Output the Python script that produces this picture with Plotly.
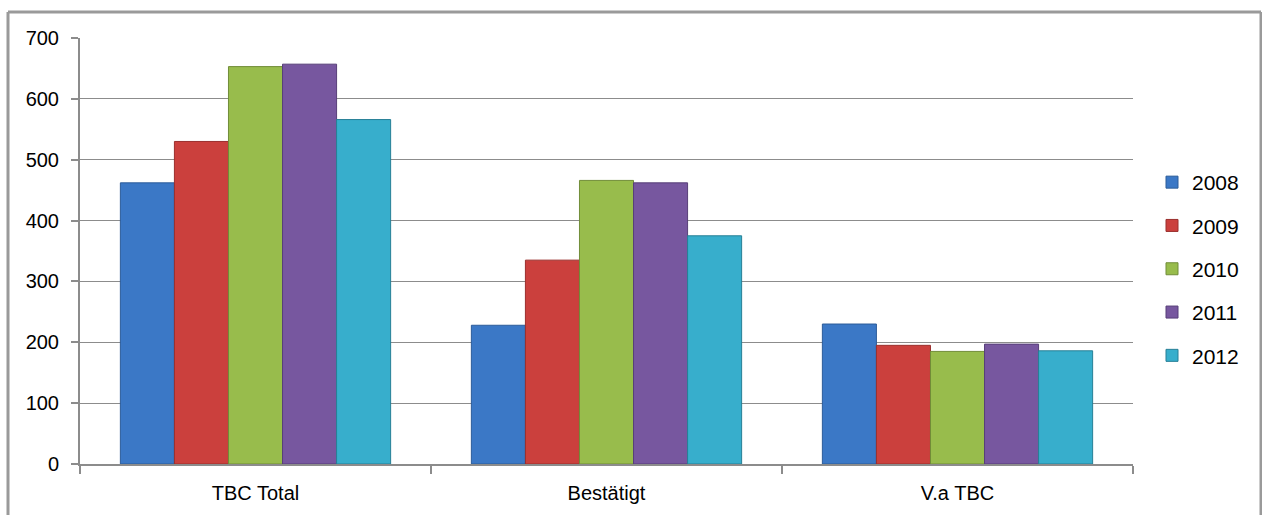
import plotly.graph_objects as go

categories = ["TBC Total", "Bestätigt", "V.a TBC"]
years = ["2008", "2009", "2010", "2011", "2012"]
values_2008 = [462, 228, 230]
values_2009 = [530, 335, 195]
values_2010 = [653, 466, 185]
values_2011 = [657, 462, 197]
values_2012 = [566, 375, 186]
series = [values_2008, values_2009, values_2010, values_2011, values_2012]
y_ticks = [0, 100, 200, 300, 400, 500, 600, 700]

colors = ["#3B78C6", "#CB403D", "#98BC4C", "#77579F", "#37AECC"]
edges = ["#2C5C99", "#9A2F2D", "#718D38", "#573F78", "#267F96"]

FONT = "Liberation Sans"

fig = go.Figure()
for name, vals, c, e in zip(years, series, colors, edges):
    fig.add_trace(go.Bar(
        x=categories, y=vals, name=name, legendgroup=name,
        marker=dict(color=c, line=dict(color=e, width=1)),
    ))

W, H = 1262, 515
L, R, T, B = 80, 129, 38, 51
pw, ph = W - L - R, H - T - B

def px_x(p):
    return (p - L) / pw

def px_y(p):
    return (H - B - p) / ph

fig.update_layout(
    width=W, height=H,
    margin=dict(l=L, r=R, t=T, b=B, autoexpand=False),
    paper_bgcolor="white", plot_bgcolor="white",
    barmode="group", bargap=0.23, bargroupgap=0,
    font=dict(family=FONT, size=20, color="#000000"),
    legend=dict(
        x=px_x(1152), y=px_y(162), xanchor="left", yanchor="top",
        font=dict(family=FONT, size=21, color="#000"),
        tracegroupgap=13, itemwidth=30,
    ),
    xaxis=dict(
        type="category", showgrid=False, showline=True, linecolor="#8C8C8C", linewidth=2,
        ticks="outside", tickson="boundaries", ticklen=8, tickcolor="#8C8C8C", tickwidth=2,
        tickfont=dict(family=FONT, size=20, color="#000"), ticklabelstandoff=10,
    ),
    yaxis=dict(
        range=[0, 700], tickvals=y_ticks, showgrid=True, gridcolor="#8C8C8C", gridwidth=1,
        showline=True, linecolor="#8C8C8C", linewidth=2, zeroline=False,
        ticks="outside", ticklen=7, tickcolor="#8C8C8C", tickwidth=2,
        tickfont=dict(family=FONT, size=20, color="#000"), ticklabelstandoff=8,
    ),
    shapes=[
        dict(type="line", xref="paper", yref="paper", x0=px_x(8), x1=px_x(8),
             y0=px_y(12), y1=px_y(530), line=dict(color="#9A9A9A", width=3)),
        dict(type="line", xref="paper", yref="paper", x0=px_x(8), x1=px_x(1261),
             y0=px_y(12), y1=px_y(12), line=dict(color="#9A9A9A", width=3)),
        dict(type="line", xref="paper", yref="paper", x0=px_x(1261), x1=px_x(1261),
             y0=px_y(12), y1=px_y(530), line=dict(color="#9A9A9A", width=3)),
    ],
)

fig.write_html("out.html")
